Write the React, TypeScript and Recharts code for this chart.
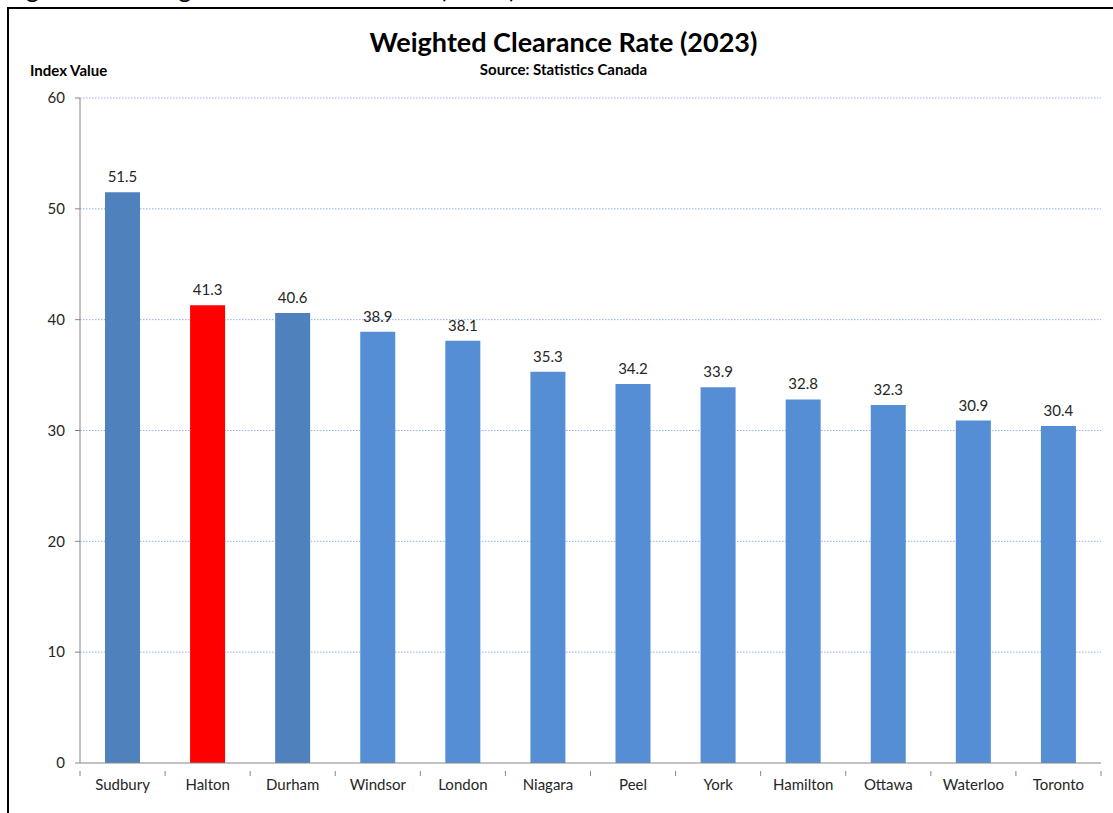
import { BarChart, Bar, XAxis, YAxis, CartesianGrid, Cell, LabelList } from "recharts";

const regions = ["Sudbury", "Halton", "Durham", "Windsor", "London", "Niagara", "Peel", "York", "Hamilton", "Ottawa", "Waterloo", "Toronto"];
const clearance = [51.5, 41.3, 40.6, 38.9, 38.1, 35.3, 34.2, 33.9, 32.8, 32.3, 30.9, 30.4];
const yTicks = [0, 10, 20, 30, 40, 50, 60];

const data = regions.map((name, i) => ({ name, value: clearance[i] }));

const W = 1113;
const H = 813;
const M = { top: 98, right: 12, bottom: 20, left: 0 };
const Y_W = 80;
const band = (W - Y_W - M.right) / regions.length;

const font = "Lato, 'Open Sans', sans-serif";

function barColor(name: string) {
  if (name === "Halton") return "#FF0000";
  if (name === "Sudbury" || name === "Durham") return "#4F81BD";
  return "#558ED5";
}

function XTick(props: any) {
  const { x, y, payload, index } = props;
  const last = index === regions.length - 1;
  return (
    <g>
      <line x1={x - band / 2} x2={x - band / 2} y1={y} y2={y + 5} stroke="#868686" />
      {last && <line x1={x + band / 2} x2={x + band / 2} y1={y} y2={y + 5} stroke="#868686" />}
      <text x={x} y={y + 27} textAnchor="middle" fontSize={15} fill="#262626" fontFamily={font} dy={-8}>
        {payload.value}
      </text>
    </g>
  );
}

export default function App() {
  return (
    <div style={{ position: "fixed", left: 0, top: 0, width: W, height: H, background: "#fff", overflow: "hidden" }}>
      <div
        style={{
          position: "absolute",
          left: 4,
          top: -27,
          fontFamily: font,
          fontSize: 25,
          whiteSpace: "nowrap",
          color: "#000",
          letterSpacing: 1,
        }}
      >
        Figure 12: Weighted Clearance Rate (2023)
      </div>
      <div
        style={{
          position: "absolute",
          left: 7,
          top: 7,
          width: 1130,
          height: 830,
          border: "2px solid #000",
          boxSizing: "border-box",
          background: "#fff",
        }}
      />
      <div style={{ position: "absolute", left: 0, top: 0 }}>
        <BarChart width={W} height={H} data={data} margin={M} barSize={35}>
          <CartesianGrid
            vertical={false}
            stroke="#8EB4E3"
            strokeDasharray="1.5 1.5"
            horizontalValues={[10, 20, 30, 40, 50, 60]}
          />
          <XAxis
            dataKey="name"
            height={30}
            axisLine={{ stroke: "#868686" }}
            tickLine={false}
            tick={<XTick />}
            interval={0}
          />
          <YAxis
            width={Y_W}
            domain={[0, 60]}
            ticks={yTicks}
            axisLine={{ stroke: "#868686" }}
            tickLine={{ stroke: "#868686" }}
            tickSize={5}
            tickMargin={10}
            tick={{ fontSize: 15, fill: "#262626", fontFamily: font }}
          />
          <Bar dataKey="value" isAnimationActive={false}>
            {data.map((d) => (
              <Cell key={d.name} fill={barColor(d.name)} />
            ))}
            <LabelList dataKey="value" position="top" offset={10} fontSize={15} fill="#262626" fontFamily={font} />
          </Bar>
        </BarChart>
      </div>
      <div
        style={{
          position: "absolute",
          left: 7,
          width: W,
          top: 25,
          textAlign: "center",
          fontFamily: font,
          fontWeight: 700,
          fontSize: 27,
          color: "#000",
        }}
      >
        Weighted Clearance Rate (2023)
      </div>
      <div
        style={{
          position: "absolute",
          left: 7,
          width: W,
          top: 60,
          textAlign: "center",
          fontFamily: font,
          fontWeight: 700,
          fontSize: 15,
          color: "#000",
        }}
      >
        Source: Statistics Canada
      </div>
      <div
        style={{
          position: "absolute",
          left: 30,
          top: 61,
          fontFamily: font,
          fontWeight: 700,
          fontSize: 15,
          color: "#000",
        }}
      >
        Index Value
      </div>
    </div>
  );
}
